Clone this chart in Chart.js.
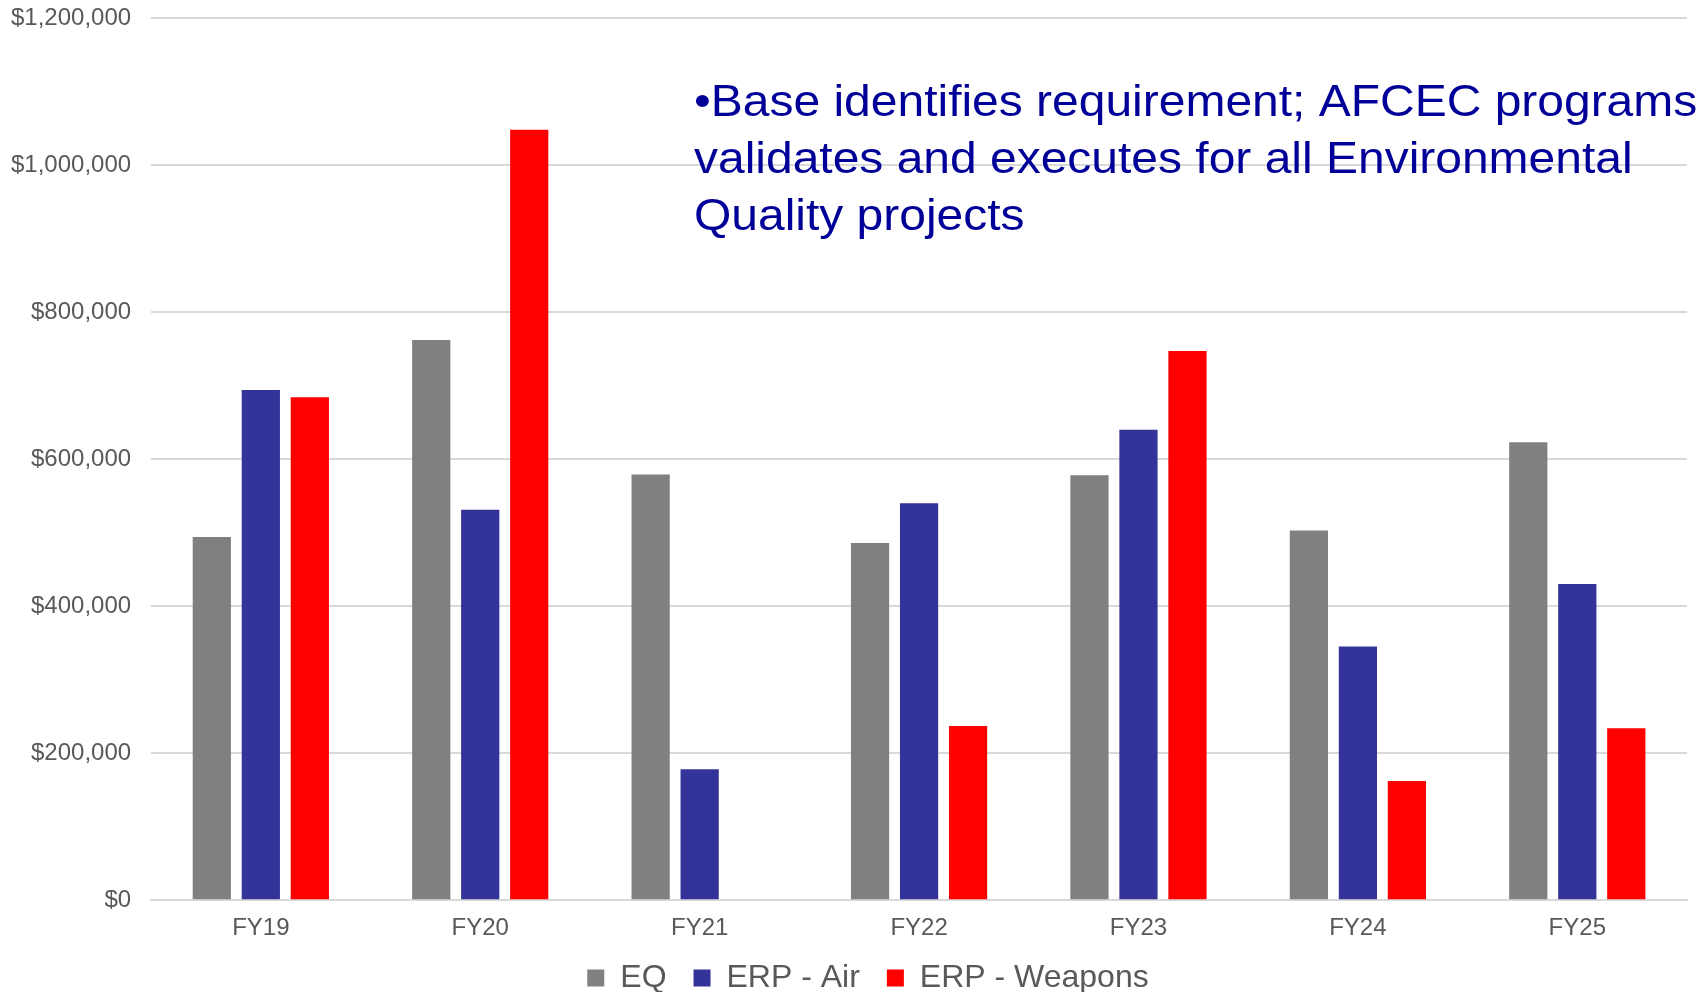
<!DOCTYPE html>
<html>
<head>
<meta charset="utf-8">
<script src="https://cdn.jsdelivr.net/npm/chart.js@4.4.1/dist/chart.umd.min.js"></script>
<style>
  html, body { margin: 0; padding: 0; background: #fff; }
  #wrap { width: 1698px; height: 992px; }
</style>
</head>
<body>
<div id="wrap"><canvas id="fundingChart" width="1698" height="992"></canvas></div>
<script>
const years = ['FY19', 'FY20', 'FY21', 'FY22', 'FY23', 'FY24', 'FY25'];
const eq = [494000, 762000, 579000, 486000, 578000, 503000, 623000];
const erpAir = [694000, 531000, 178000, 540000, 640000, 345000, 430000];
const erpWeapons = [684000, 1048000, null, 237000, 747000, 162000, 234000];
const noteLines = [
  '\u2022Base identifies requirement; AFCEC programs',
  'validates and executes for all Environmental',
  'Quality projects'
];

const FONT = "'Liberation Sans', Arial, sans-serif";

// overlay text that sits inside the plot
const notePlugin = {
  id: 'note',
  afterDraw(chart) {
    const ctx = chart.ctx;
    ctx.save();
    ctx.fillStyle = '#000099';
    ctx.font = '45px ' + FONT;
    ctx.textBaseline = 'middle';
    ctx.translate(694, 0);
    ctx.scale(1.066, 1);
    noteLines.forEach(function (line, i) {
      ctx.fillText(line, 0, 104 + i * 57);
    });
    ctx.restore();
  }
};

// nudge the legend a little to the right, like the original
const legendShift = {
  id: 'legendShift',
  beforeLayout(chart) {
    const lg = chart.legend;
    if (lg && !lg._shifted) {
      const draw = lg.draw;
      lg.draw = function () {
        this.ctx.save();
        this.ctx.translate(29, 0);
        draw.apply(this, arguments);
        this.ctx.restore();
      };
      lg._shifted = true;
    }
  }
};

document.addEventListener("DOMContentLoaded", function () {
  const ctx = document.getElementById("fundingChart").getContext("2d");
  new Chart(ctx, {
    type: "bar",
    data: {
      labels: years,
      datasets: [
        { label: "EQ", data: eq, backgroundColor: "#808080" },
        { label: "ERP - Air", data: erpAir, backgroundColor: "#333399" },
        { label: "ERP - Weapons", data: erpWeapons, backgroundColor: "#FF0000" },
      ],
    },
    options: {
      responsive: false,
      animation: false,
      devicePixelRatio: 1,
      categoryPercentage: 0.67,
      barPercentage: 0.78,
      layout: {
        padding: { left: -9, right: 11, top: 18, bottom: -12 },
      },
      scales: {
        x: {
          afterFit: function (scale) {
            scale.height -= 22;
          },
          grid: { display: false, drawTicks: false },
          border: { color: "#d9d9d9", width: 2 },
          ticks: {
            color: "#595959",
            font: { family: FONT, size: 24 },
            padding: 14,
          },
        },
        y: {
          min: 0,
          max: 1200000,
          afterFit: function (scale) {
            scale.paddingTop = 0; // let layout padding set the top edge
          },
          ticks: {
            stepSize: 200000,
            color: "#595959",
            font: { family: FONT, size: 24 },
            padding: 20,
            callback: function (v) {
              return '$' + v.toLocaleString('en-US');
            },
          },
          grid: { color: "#d9d9d9", lineWidth: 2, drawTicks: false },
          border: { display: false },
        },
      },
      plugins: {
        legend: {
          position: "bottom",
          labels: {
            color: "#595959",
            font: { family: FONT, size: 32 },
            boxWidth: 17,
            boxHeight: 17,
            padding: 27,
          },
        },
        tooltip: { enabled: false },
      },
    },
    plugins: [notePlugin, legendShift],
  });
});
</script>
</body>
</html>
